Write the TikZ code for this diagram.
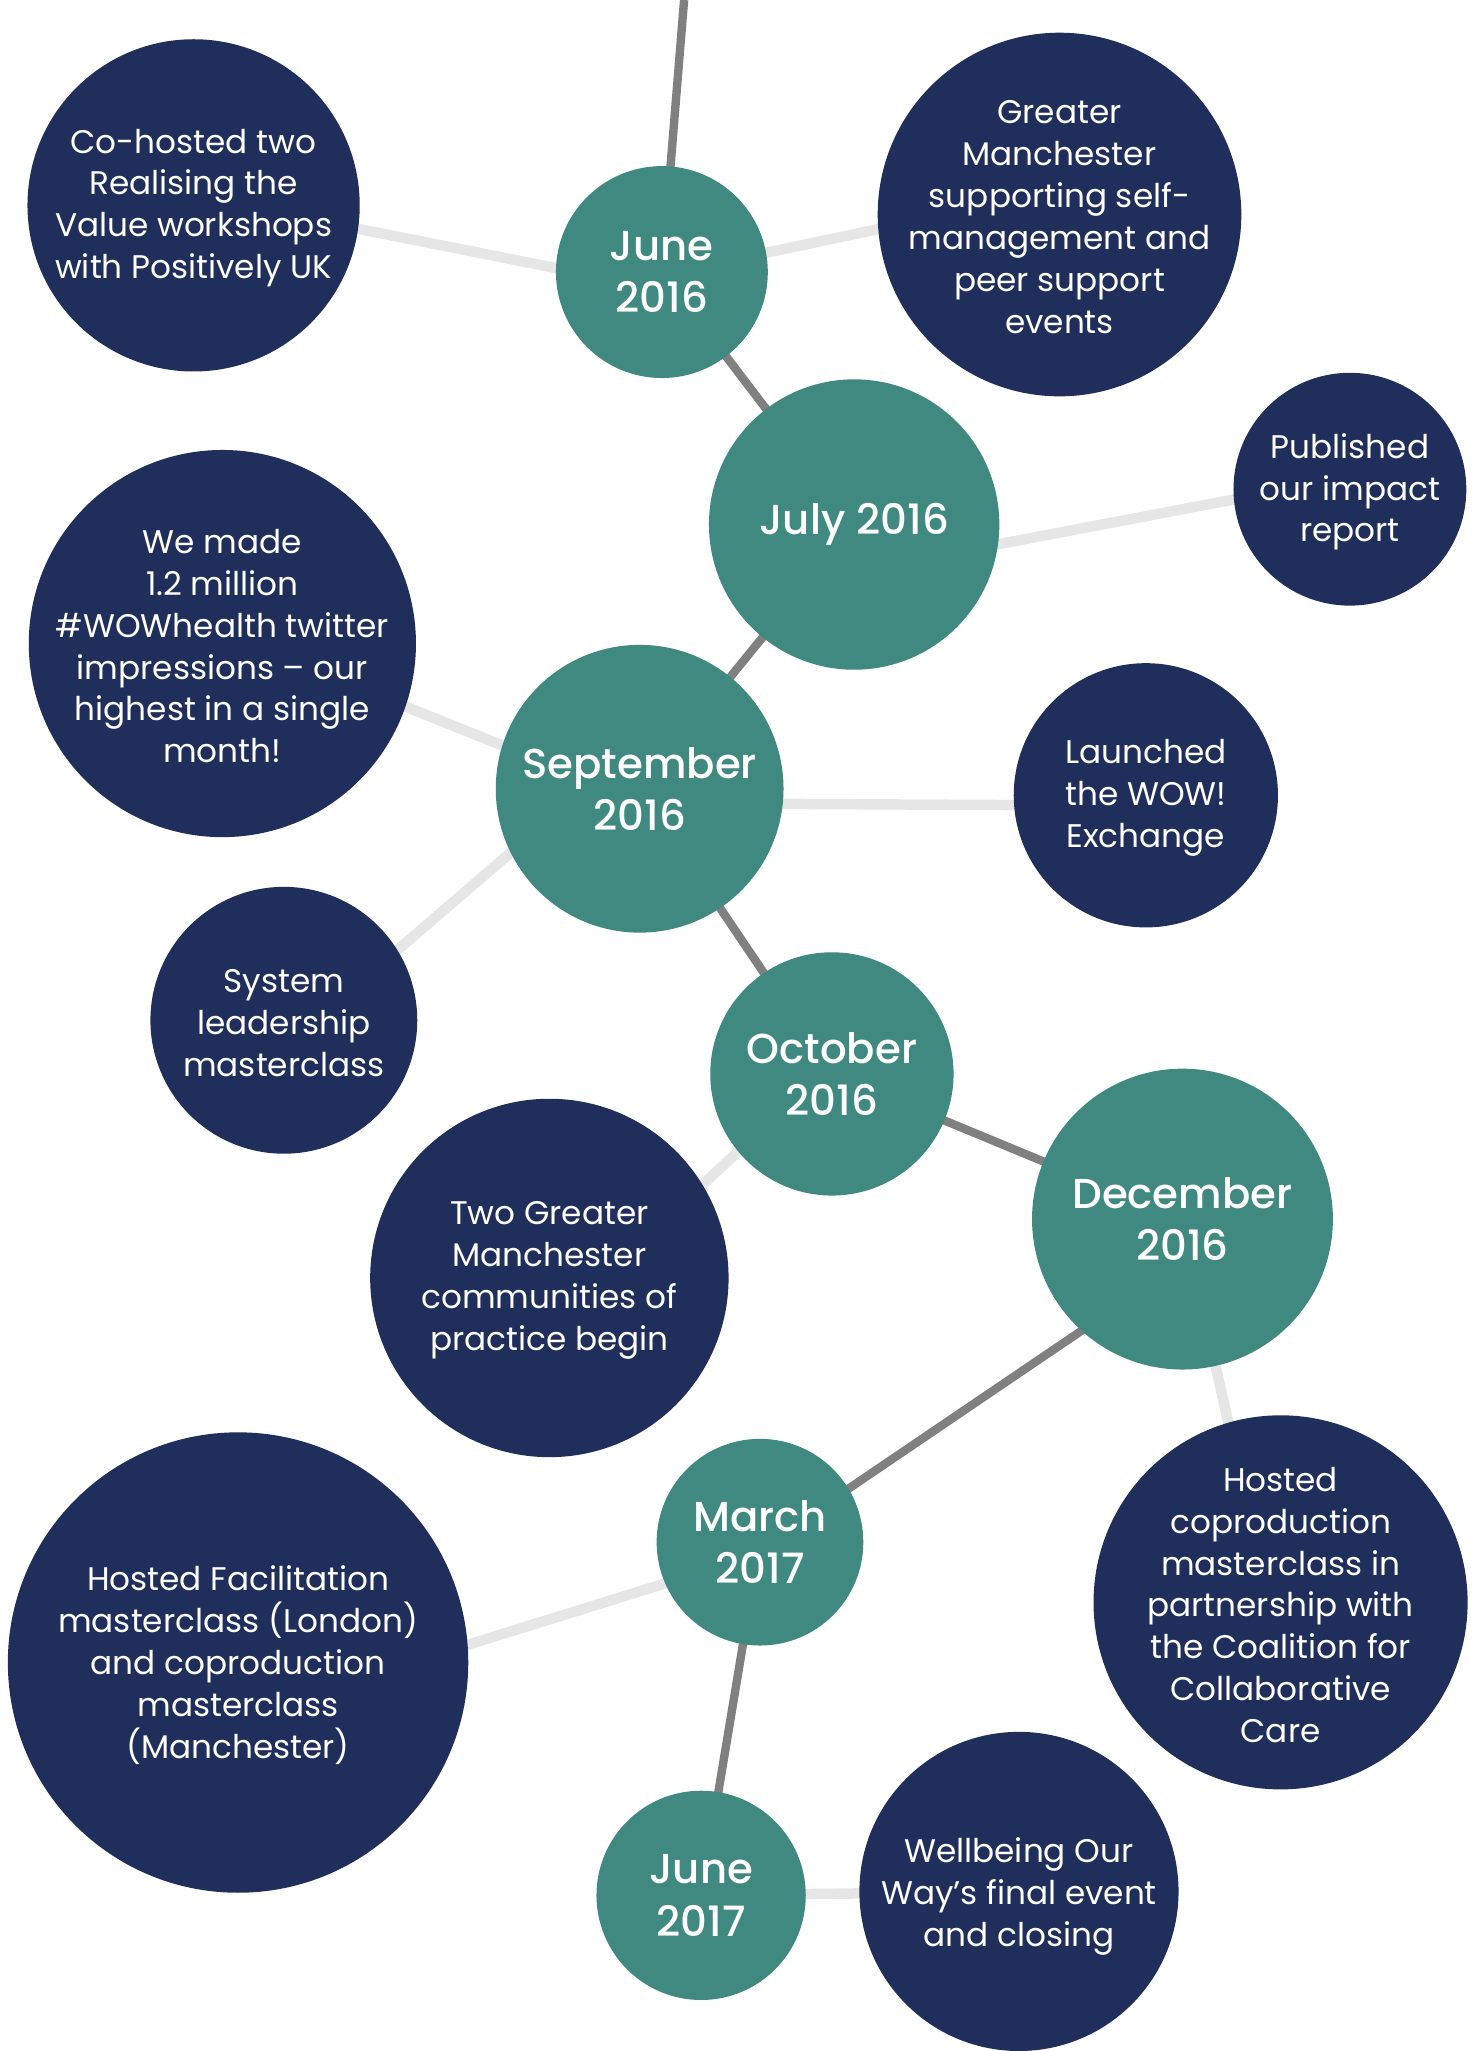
\documentclass[tikz,border=0pt]{standalone}
\usepackage{fontspec}
\setmainfont{Poppins}
\newfontfamily\datefont{Poppins Medium}
\usetikzlibrary{backgrounds,calc}
\definecolor{teal1}{RGB}{64,137,129}
\definecolor{navy1}{RGB}{31,46,91}
\definecolor{darkln}{RGB}{128,128,128}
\definecolor{lightln}{RGB}{230,230,230}
\begin{document}
\begin{tikzpicture}[x=0.5pt,y=-0.5pt,
  datecirc/.style={circle,fill=teal1,text=white,inner sep=0pt,align=center,font=\fontsize{16}{20}\selectfont\datefont},
  infocirc/.style={circle,fill=navy1,inner sep=0pt},
  infotext/.style={text=white,inner sep=0pt,align=center,font=\fontsize{12.5}{16}\selectfont},
  mainlink/.style={draw=darkln,line width=3.2pt},
  sidelink/.style={draw=lightln,line width=4pt}]
\useasboundingbox (0,0) rectangle (1134,1568);

% date circles
\node[datecirc,minimum size=81pt] (jun16) at (506,208) {June\\2016};
\node[datecirc,minimum size=111pt] (jul16) at (653,401) {July 2016};
\node[datecirc,minimum size=110pt] (sep16) at (489,603) {September\\2016};
\node[datecirc,minimum size=93pt] (oct16) at (636,821) {October\\2016};
\node[datecirc,minimum size=115pt] (dec16) at (904,932) {December\\2016};
\node[datecirc,minimum size=79pt] (mar17) at (581,1179) {March\\2017};
\node[datecirc,minimum size=80pt] (jun17) at (536,1449) {June\\2017};

% info circles
\node[infocirc,minimum size=127pt] (coA) at (148,157) {};
\node[infotext] (tA) at ($(coA.center)+(0,2)$) {Co-hosted two\\Realising the\\Value workshops\\with Positively UK};
\node[infocirc,minimum size=139pt] (coB) at (810,164) {};
\node[infotext] (tB) at ($(coB.center)+(0,2)$) {Greater\\Manchester\\supporting self-\\management and\\peer support\\events};
\node[infocirc,minimum size=89pt] (coC) at (1032,374) {};
\node[infotext] (tC) at ($(coC.center)+(0,2)$) {Published\\our impact\\report};
\node[infocirc,minimum size=148pt] (coD) at (170,492) {};
\node[infotext] (tD) at ($(coD.center)+(0,2)$) {We made\\1.2 million\\\#WOWhealth twitter\\impressions – our\\highest in a single\\month!};
\node[infocirc,minimum size=101pt] (coE) at (876,608) {};
\node[infotext] (tE) at ($(coE.center)+(0,2)$) {Launched\\the WOW!\\Exchange};
\node[infocirc,minimum size=102pt] (coF) at (217,780) {};
\node[infotext] (tF) at ($(coF.center)+(0,2)$) {System\\leadership\\masterclass};
\node[infocirc,minimum size=137pt] (coG) at (420,977) {};
\node[infotext] (tG) at ($(coG.center)+(0,2)$) {Two Greater\\Manchester\\communities of\\practice begin};
\node[infocirc,minimum size=143pt] (coH) at (979,1225) {};
\node[infotext] (tH) at ($(coH.center)+(0,2)$) {Hosted\\coproduction\\masterclass in\\partnership with\\the Coalition for\\Collaborative\\Care};
\node[infocirc,minimum size=176pt] (coI) at (182,1271) {};
\node[infotext] (tI) at ($(coI.center)+(0,2)$) {Hosted Facilitation\\masterclass (London)\\and coproduction\\masterclass\\(Manchester)};
\node[infocirc,minimum size=122pt] (coJ) at (779,1446) {};
\node[infotext] (tJ) at ($(coJ.center)+(0,4)$) {Wellbeing Our\\Way’s final event\\and closing};

\coordinate (top) at (523,0);

\begin{scope}[on background layer]
  % main timeline
  \draw[mainlink] (top) -- (jun16.center);
  \draw[mainlink] (jun16.center) -- (jul16.center);
  \draw[mainlink] (jul16.center) -- (sep16.center);
  \draw[mainlink] (sep16.center) -- (oct16.center);
  \draw[mainlink] (oct16.center) -- (dec16.center);
  \draw[mainlink] ($(dec16.center)+(0,33)$) -- ($(mar17.center)+(0,5)$);
  \draw[mainlink] (mar17.center) -- (jun17.center);
  % side links
  \draw[sidelink] ($(coA.center)+(0,-7)$) -- ($(jun16.center)+(0,13)$);
  \draw[sidelink] ($(jun16.center)+(0,2)$) -- ($(coB.center)+(0,-18)$);
  \draw[sidelink] ($(jul16.center)+(0,36)$) -- ($(coC.center)+(0,-9)$);
  \draw[sidelink] ($(coD.center)+(0,-8)$) -- ($(sep16.center)+(0,9)$);
  \draw[sidelink] ($(sep16.center)+(0,11)$) -- ($(coE.center)+(0,8)$);
  \draw[sidelink] ($(sep16.center)+(0,-36)$) -- ($(coF.center)+(0,21)$);
  \draw[sidelink] ($(oct16.center)+(0,-7)$) -- ($(coG.center)+(0,37)$);
  \draw[sidelink] (dec16.center) -- ($(coH.center)+(-9,0)$);
  \draw[sidelink] ($(mar17.center)+(0,9)$) -- ($(coI.center)+(0,41)$);
  \draw[sidelink] (jun17.center) -- (coJ.center);
\end{scope}
\end{tikzpicture}
\end{document}
